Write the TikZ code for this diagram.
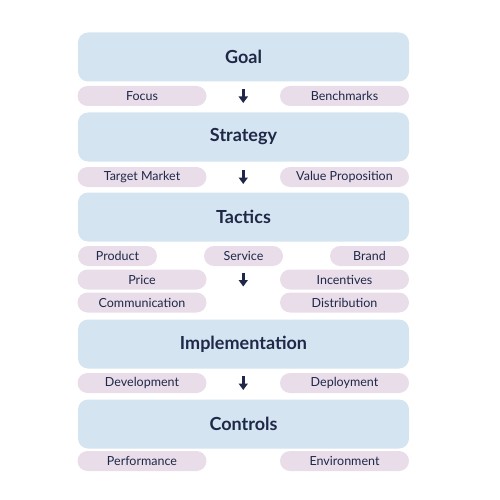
\documentclass[tikz,border=0pt]{standalone}
\usepackage{fontspec}
\setmainfont{Lato}
\usetikzlibrary{arrows.meta}
\definecolor{layerblue}{HTML}{D4E4F0}
\definecolor{pillpink}{HTML}{E8DDE9}
\definecolor{inkblue}{HTML}{1F2848}
\tikzset{
  layer/.style={fill=layerblue, rounded corners=10pt, minimum width=331pt, minimum height=49pt,
    text=inkblue, font=\fontsize{18}{21}\selectfont\bfseries, inner sep=0pt},
  pill/.style={fill=pillpink, rounded corners=10pt, minimum height=20pt,
    text=inkblue, font=\fontsize{12.5}{14}\selectfont, inner sep=0pt},
  widepill/.style={pill, minimum width=129pt},
  shortpill/.style={pill, minimum width=79pt},
  flow/.style={draw=inkblue, line width=2.8pt, -{Triangle[width=9pt,length=6.5pt]}}
}
\begin{document}
\begin{tikzpicture}[x=1pt,y=-1pt]
  \useasboundingbox (0,0) rectangle (500,500);

  %%%%% LAYERS %%%%%
  \node[layer] (goal) at (243.5,57) {Goal};
  \node[layer] (strategy) at (243.5,137) {Strategy};
  \node[layer] (tactics) at (243.5,217) {Tactics};
  \node[layer] (implementation) at (243.5,344) {Implementation};
  \node[layer] (controls) at (243.5,424) {Controls};

  %%%%% PILLS %%%%%
  \node[widepill] (focus) at (142,96) {Focus};
  \node[widepill] (benchmarks) at (344.5,96) {Benchmarks};

  \node[widepill] (target) at (142,177) {Target Market};
  \node[widepill] (value) at (344.5,177) {Value Proposition};

  \node[shortpill] (product) at (117.5,256) {Product};
  \node[shortpill] (service) at (243.5,256) {Service};
  \node[shortpill] (brand) at (369.5,256) {Brand};
  \node[widepill] (price) at (142,279.5) {Price};
  \node[widepill] (incentives) at (344.5,279.5) {Incentives};
  \node[widepill] (communication) at (142,302.5) {Communication};
  \node[widepill] (distribution) at (344.5,302.5) {Distribution};

  \node[widepill] (development) at (142,383) {Development};
  \node[widepill] (deployment) at (344.5,383) {Deployment};

  \node[widepill] (performance) at (142,461) {Performance};
  \node[widepill] (environment) at (344.5,461) {Environment};

  %%%%% ARROWS %%%%%
  \path (focus) -- (benchmarks) coordinate[midway] (a1);
  \path (target) -- (value) coordinate[midway] (a2);
  \path (price) -- (incentives) coordinate[midway] (a3);
  \path (development) -- (deployment) coordinate[midway] (a4);
  \foreach \a in {a1,a2,a3,a4}
    \draw[flow] ([yshift=7pt]\a) -- ([yshift=-7pt]\a);
\end{tikzpicture}
\end{document}
